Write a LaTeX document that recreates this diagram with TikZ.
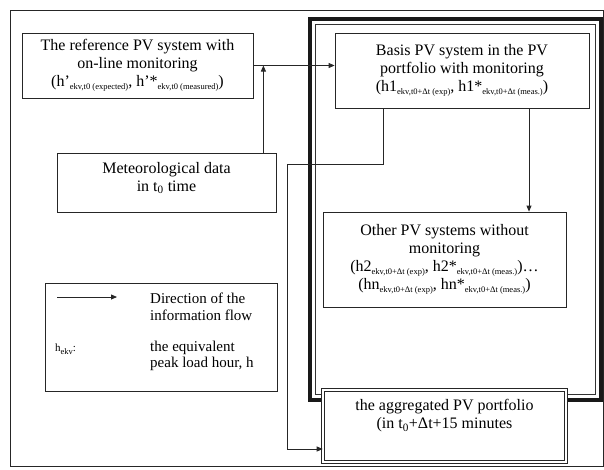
\documentclass[tikz,border=0pt]{standalone}
\usepackage{fontspec}
\setmainfont{Liberation Serif}
\usetikzlibrary{arrows.meta,calc}
\newcommand\sbs[1]{\raisebox{-2.5pt}{\fontsize{8.5}{9}\selectfont #1}}
\begin{document}
\begin{tikzpicture}[x=1pt,y=-1pt,
  box/.style={draw=black!85,line width=0.8pt,fill=white,inner sep=2pt,align=center,
    font=\fontsize{16}{18}\selectfont},
  txt/.style={inner sep=0pt,align=center,font=\fontsize{16}{18}\selectfont},
  ltxt/.style={inner sep=0pt,align=left,anchor=west,font=\fontsize{15}{16.5}\selectfont},
  flow/.style={-{Triangle[length=6pt,width=5pt]},line width=0.8pt,draw=black!85}]
\useasboundingbox (0,0) rectangle (604,469);
% outer frame
\draw[line width=1pt,black!85] (10,10) rectangle (603,466);
% thick portfolio frame
\draw[line width=3.5pt,black!90] (310,19) rectangle (601,400);
\draw[line width=0.7pt,black!80] (315.5,24.5) rectangle (595.5,394.5);

% boxes
\node[box,minimum width=231pt,minimum height=65pt] (ref) at (137.5,65.5)
  {The reference PV system with\\on-line monitoring\\
   (h’\sbs{ekv,t0 (expected)}, h’*\sbs{ekv,t0 (measured)})};
\node[box,minimum width=254pt,minimum height=75pt] (basis) at (462,70.5)
  {Basis PV system in the PV\\portfolio with monitoring\\
   (h1\sbs{ekv,t0+Δt (exp)}, h1*\sbs{ekv,t0+Δt (meas.)})};
\node[box,minimum width=219pt,minimum height=59pt] (met) at (166.5,182.5) {};
\node[txt] (mettext) at (166.5,178) {Meteorological data\\in t\textsubscript{0} time};
\node[box,minimum width=243pt,minimum height=95pt] (other) at (444.5,259.5)
  {Other PV systems without\\monitoring\\
   (h2\sbs{ekv,t0+Δt (exp)}, h2*\sbs{ekv,t0+Δt (meas.)})…\\
   (hn\sbs{ekv,t0+Δt (exp)}, hn*\sbs{ekv,t0+Δt (meas.)})};
\node[box,minimum width=232pt,minimum height=108pt] (legend) at (161,337) {};
\node[box,double,double distance=2pt,line width=0.6pt,minimum width=243pt,minimum height=72pt] (agg) at (444.5,426) {};
\node[txt] (aggtext) at (444.5,416) {the aggregated PV portfolio\\(in t\textsubscript{0}+Δt+15 minutes};

% legend content
\coordinate (la) at (57,297);
\coordinate (lb) at (117,297);
\draw[flow] (la) -- (lb);
\node[ltxt] (l1) at (150,307) {Direction of the\\information flow};
\node[ltxt] (l2) at (55,349) {\fontsize{11}{12}\selectfont h\sbs{ekv}:};
\node[ltxt] (l3) at (150,356) {the equivalent\\peak load hour, h};

% connectors
\coordinate (j1) at ($(ref.east)+(10,0)$);
\draw[flow] (ref.east) -- (basis.west |- ref.east);
\draw[flow] (met.north -| j1) -- (j1);
\coordinate (b1) at ($(basis.south)+(67,0)$);
\draw[flow] (b1) -- (b1 |- other.north);
\coordinate (b2) at ($(basis.south)+(-79,0)$);
\coordinate (k1) at (287,164);
\coordinate (k2) at (287,449);
\draw[flow] (b2) |- (k1) -- (k2) -- (k2 -| agg.west);
\end{tikzpicture}
\end{document}
